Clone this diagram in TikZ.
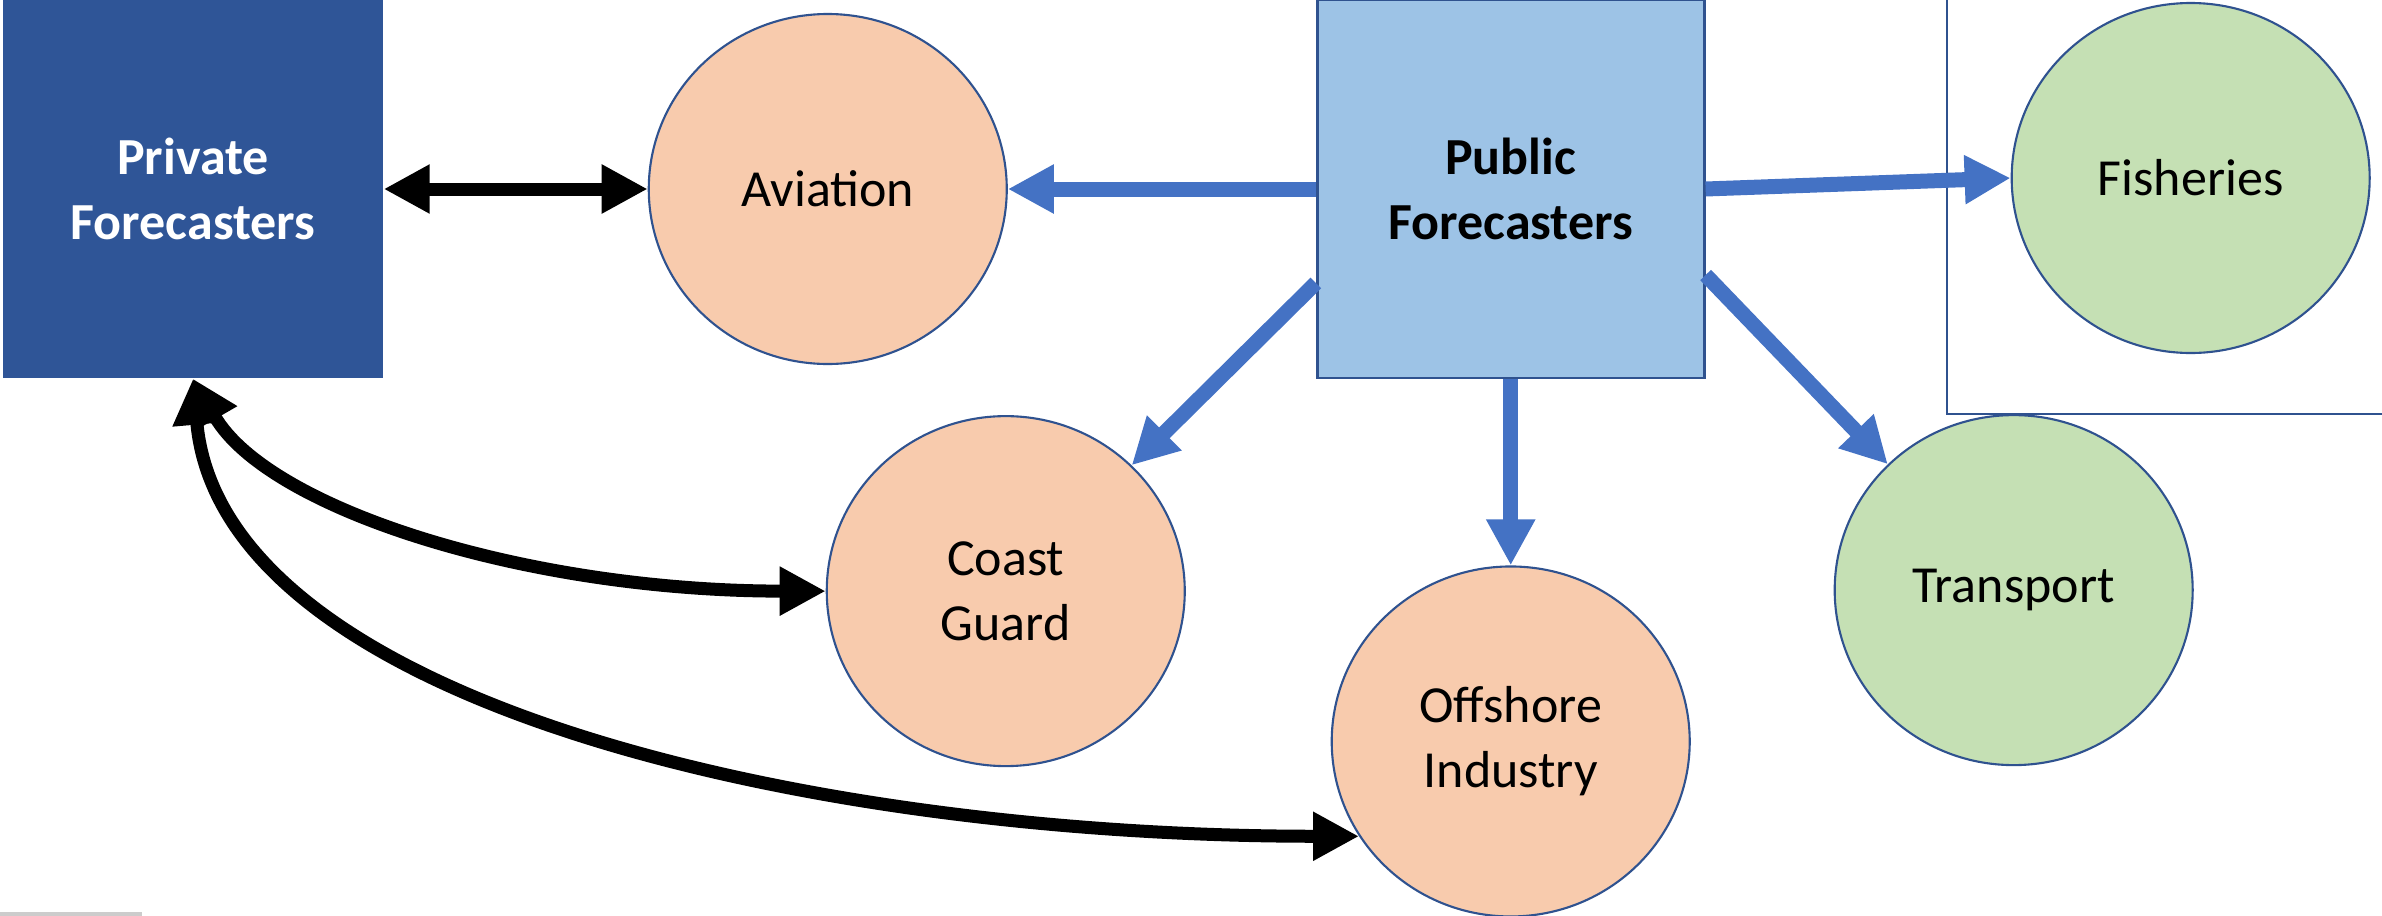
\documentclass[tikz,border=0pt]{standalone}
\usepackage{fontspec}
\setmainfont{Carlito}
\usetikzlibrary{positioning,arrows.meta,shapes.geometric}

\definecolor{pfblue}{RGB}{47,85,151}
\definecolor{pubblue}{RGB}{157,195,230}
\definecolor{edgeblue}{RGB}{47,82,143}
\definecolor{peach}{RGB}{248,203,173}
\definecolor{leaf}{RGB}{197,224,180}
\definecolor{arrowblue}{RGB}{68,114,196}

\begin{document}
\begin{tikzpicture}[>={Triangle[length=4.6mm,width=4.6mm]},
        font=\fontsize{14.8}{18.5}\selectfont,
        org/.style={rectangle, align=center, inner sep=0pt, minimum width=3.8cm, minimum height=3.78cm, font=\fontsize{14.8}{18.5}\selectfont\bfseries},
        user/.style={ellipse, draw=edgeblue, line width=0.6pt, align=center, inner sep=0pt, minimum width=3.58cm, minimum height=3.5cm},
        feed/.style={->, draw=arrowblue, line width=0.15cm},
        link/.style={<->, draw=black, line width=0.13cm}]
        \useasboundingbox (0,0) rectangle (23.82,-9.15);

        % frame round the fisheries group
        \draw[edgeblue, line width=0.6pt] (19.47,0) |- (23.82,-4.14);
        \draw[gray!40, line width=1.2pt] (0,-9.14) -- (1.42,-9.14);

        \node[org, fill=pfblue, text=white] (PF) at (1.93,-1.89) {Private\\Forecasters};
        \node[user, fill=peach, right=2.64cm of PF] (AV) {Aviation};
        \node[org, fill=pubblue, draw=edgeblue, line width=0.8pt, minimum width=3.87cm, right=3.08cm of AV] (PUB) {Public\\Forecasters};
        \node[user, fill=leaf, right=3.05cm of PUB, yshift=0.11cm] (FISH) {Fisheries};
        \node[user, fill=peach, below=0.5cm of AV, xshift=1.78cm] (CG) {Coast\\Guard};
        \node[user, fill=peach, below=1.86cm of PUB] (OFF) {Offshore\\Industry};
        \node[user, fill=leaf, below=0.6cm of FISH, xshift=-1.77cm] (TR) {Transport};

        \draw[feed] (PUB.west) -- (AV.east);
        \draw[feed] (PUB.east) -- (FISH.west);
        \draw[feed] ([yshift=-0.94cm]PUB.west) -- (CG.45);
        \draw[feed] (PUB.south) -- (OFF.north);
        \draw[feed] ([yshift=-0.86cm]PUB.east) -- (TR.135);

        \draw[link] (PF.east) -- (AV.west);
        \draw[link] (PF.south) .. controls +(0.75,-1.3) and +(-3.0,0) .. (CG.west);
        \draw[link] (PF.south) .. controls +(0.28,-3.22) and +(-5.54,0) .. (OFF.212);
    \end{tikzpicture}
\end{document}
